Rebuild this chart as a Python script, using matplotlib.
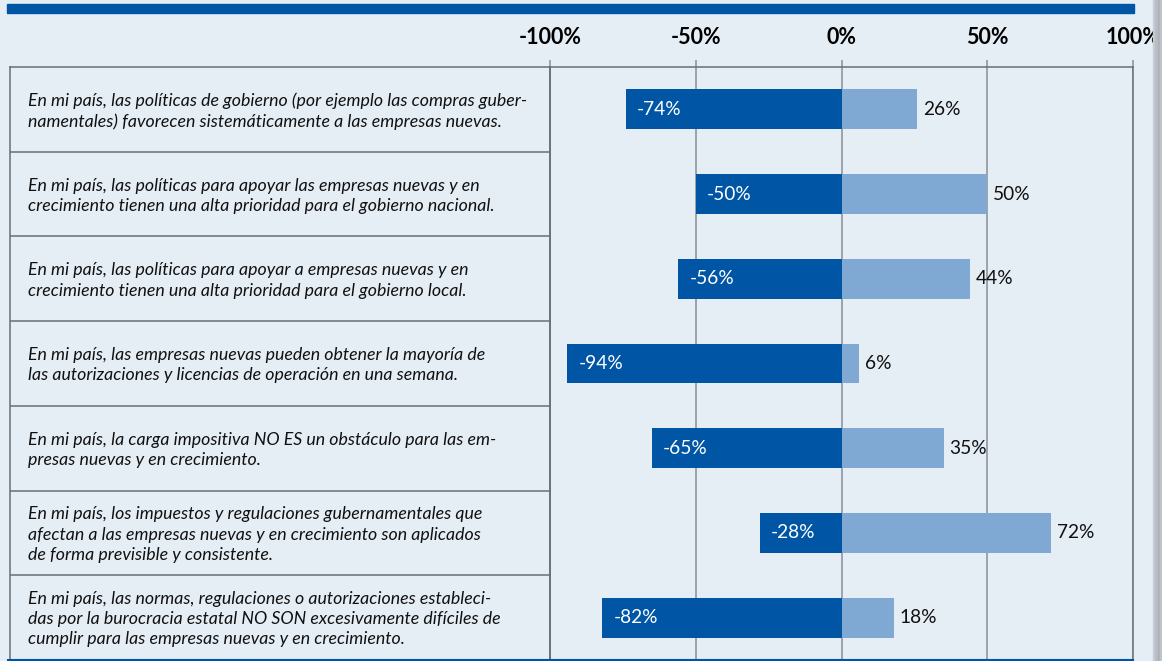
import numpy as np
import matplotlib.pyplot as plt
from matplotlib.patches import Rectangle
from matplotlib.lines import Line2D

statements = [
    "En mi país, las políticas de gobierno (por ejemplo las compras guber-\nnamentales) favorecen sistemáticamente a las empresas nuevas.",
    "En mi país, las políticas para apoyar las empresas nuevas y en\ncrecimiento tienen una alta prioridad para el gobierno nacional.",
    "En mi país, las políticas para apoyar a empresas nuevas y en\ncrecimiento tienen una alta prioridad para el gobierno local.",
    "En mi país, las empresas nuevas pueden obtener la mayoría de\nlas autorizaciones y licencias de operación en una semana.",
    "En mi país, la carga impositiva NO ES un obstáculo para las em-\npresas nuevas y en crecimiento.",
    "En mi país, los impuestos y regulaciones gubernamentales que\nafectan a las empresas nuevas y en crecimiento son aplicados\nde forma previsible y consistente.",
    "En mi país, las normas, regulaciones o autorizaciones estableci-\ndas por la burocracia estatal NO SON excesivamente difíciles de\ncumplir para las empresas nuevas y en crecimiento.",
]
disagree = [-74, -50, -56, -94, -65, -28, -82]
agree = [26, 50, 44, 6, 35, 72, 18]
ticks = [-100, -50, 0, 50, 100]

W, H = 1162, 661
BG = '#e5edf5'
DARK = '#0055a4'
LIGHT = '#7fa8d2'
GRID = '#8a8f96'
EDGE = '#6a6e74'

plt.rcParams['font.family'] = ['Lato', 'DejaVu Sans']

fig = plt.figure(figsize=(W / 100, H / 100), dpi=100)
fig.patch.set_facecolor(BG)

def fx(px):
    return px / W

def fy(py):
    return 1 - py / H

# right-hand drop shadow and top band
for i, c in enumerate(['#c9ced4', '#b9bec4', '#aeb3b9', '#bfc4ca']):
    fig.patches.append(Rectangle((fx(1153 + i * 2.3), 0), fx(2.4), 1,
                                 transform=fig.transFigure, color=c, zorder=0))
fig.patches.append(Rectangle((fx(7), fy(13)), fx(1127), fy(4) - fy(13),
                             transform=fig.transFigure, color=DARK, zorder=1))

top, bottom = 67, 660
n = len(statements)

# chart area
ax = fig.add_axes([fx(550), fy(bottom), fx(1133 - 550), fy(top) - fy(bottom)])
ax.set_facecolor('none')
ax.set_xlim(-100, 100)
ax.set_ylim(n, 0)
y = np.arange(n) + 0.5
bh = 0.47
ax.barh(y, disagree, height=bh, color=DARK, zorder=3)
ax.barh(y, agree, height=bh, color=LIGHT, zorder=3)
for yi, d, a in zip(y, disagree, agree):
    ax.annotate(f'{d}%', (d, yi), xytext=(8, 0), textcoords='offset points',
                ha='left', va='center', color='white', fontsize=13.8, zorder=4)
    ax.annotate(f'{a}%', (a, yi), xytext=(4, 0), textcoords='offset points',
                ha='left', va='center', color='#111111', fontsize=13.8, zorder=4)
for t in ticks:
    ax.axvline(t, color=GRID, lw=1.1, zorder=1)
ax.xaxis.tick_top()
ax.set_xticks(ticks)
ax.set_xticklabels([f'{t}%' for t in ticks], fontsize=15.5, fontweight='bold')
ax.tick_params(axis='x', length=5, width=1.1, color=GRID, pad=9)
ax.set_yticks([])
for s in ['top', 'left', 'right']:
    ax.spines[s].set_color(EDGE)
    ax.spines[s].set_linewidth(1.1)
ax.spines['bottom'].set_visible(False)

# statement boxes on the left
tax = fig.add_axes([fx(10), fy(bottom), fx(550 - 10), fy(top) - fy(bottom)])
tax.set_facecolor('none')
tax.set_xlim(0, 540)
tax.set_ylim(n, 0)
tax.set_xticks([])
tax.set_yticks([])
for s in ['top', 'left', 'right']:
    tax.spines[s].set_color(EDGE)
    tax.spines[s].set_linewidth(1.1)
tax.spines['bottom'].set_visible(False)
for k in range(1, n):
    tax.axhline(k, color=EDGE, lw=1.1)
for yi, txt in zip(y, statements):
    tax.text(18, yi + 0.02, txt, ha='left', va='center', fontsize=12.8,
             style='italic', linespacing=1.32, color='#111111')

# blue base line
fig.add_artist(Line2D([fx(8), fx(1133)], [fy(660), fy(660)],
                      transform=fig.transFigure, color=DARK, lw=1.5))

fig.savefig('out.png', dpi=100, facecolor=fig.get_facecolor())
